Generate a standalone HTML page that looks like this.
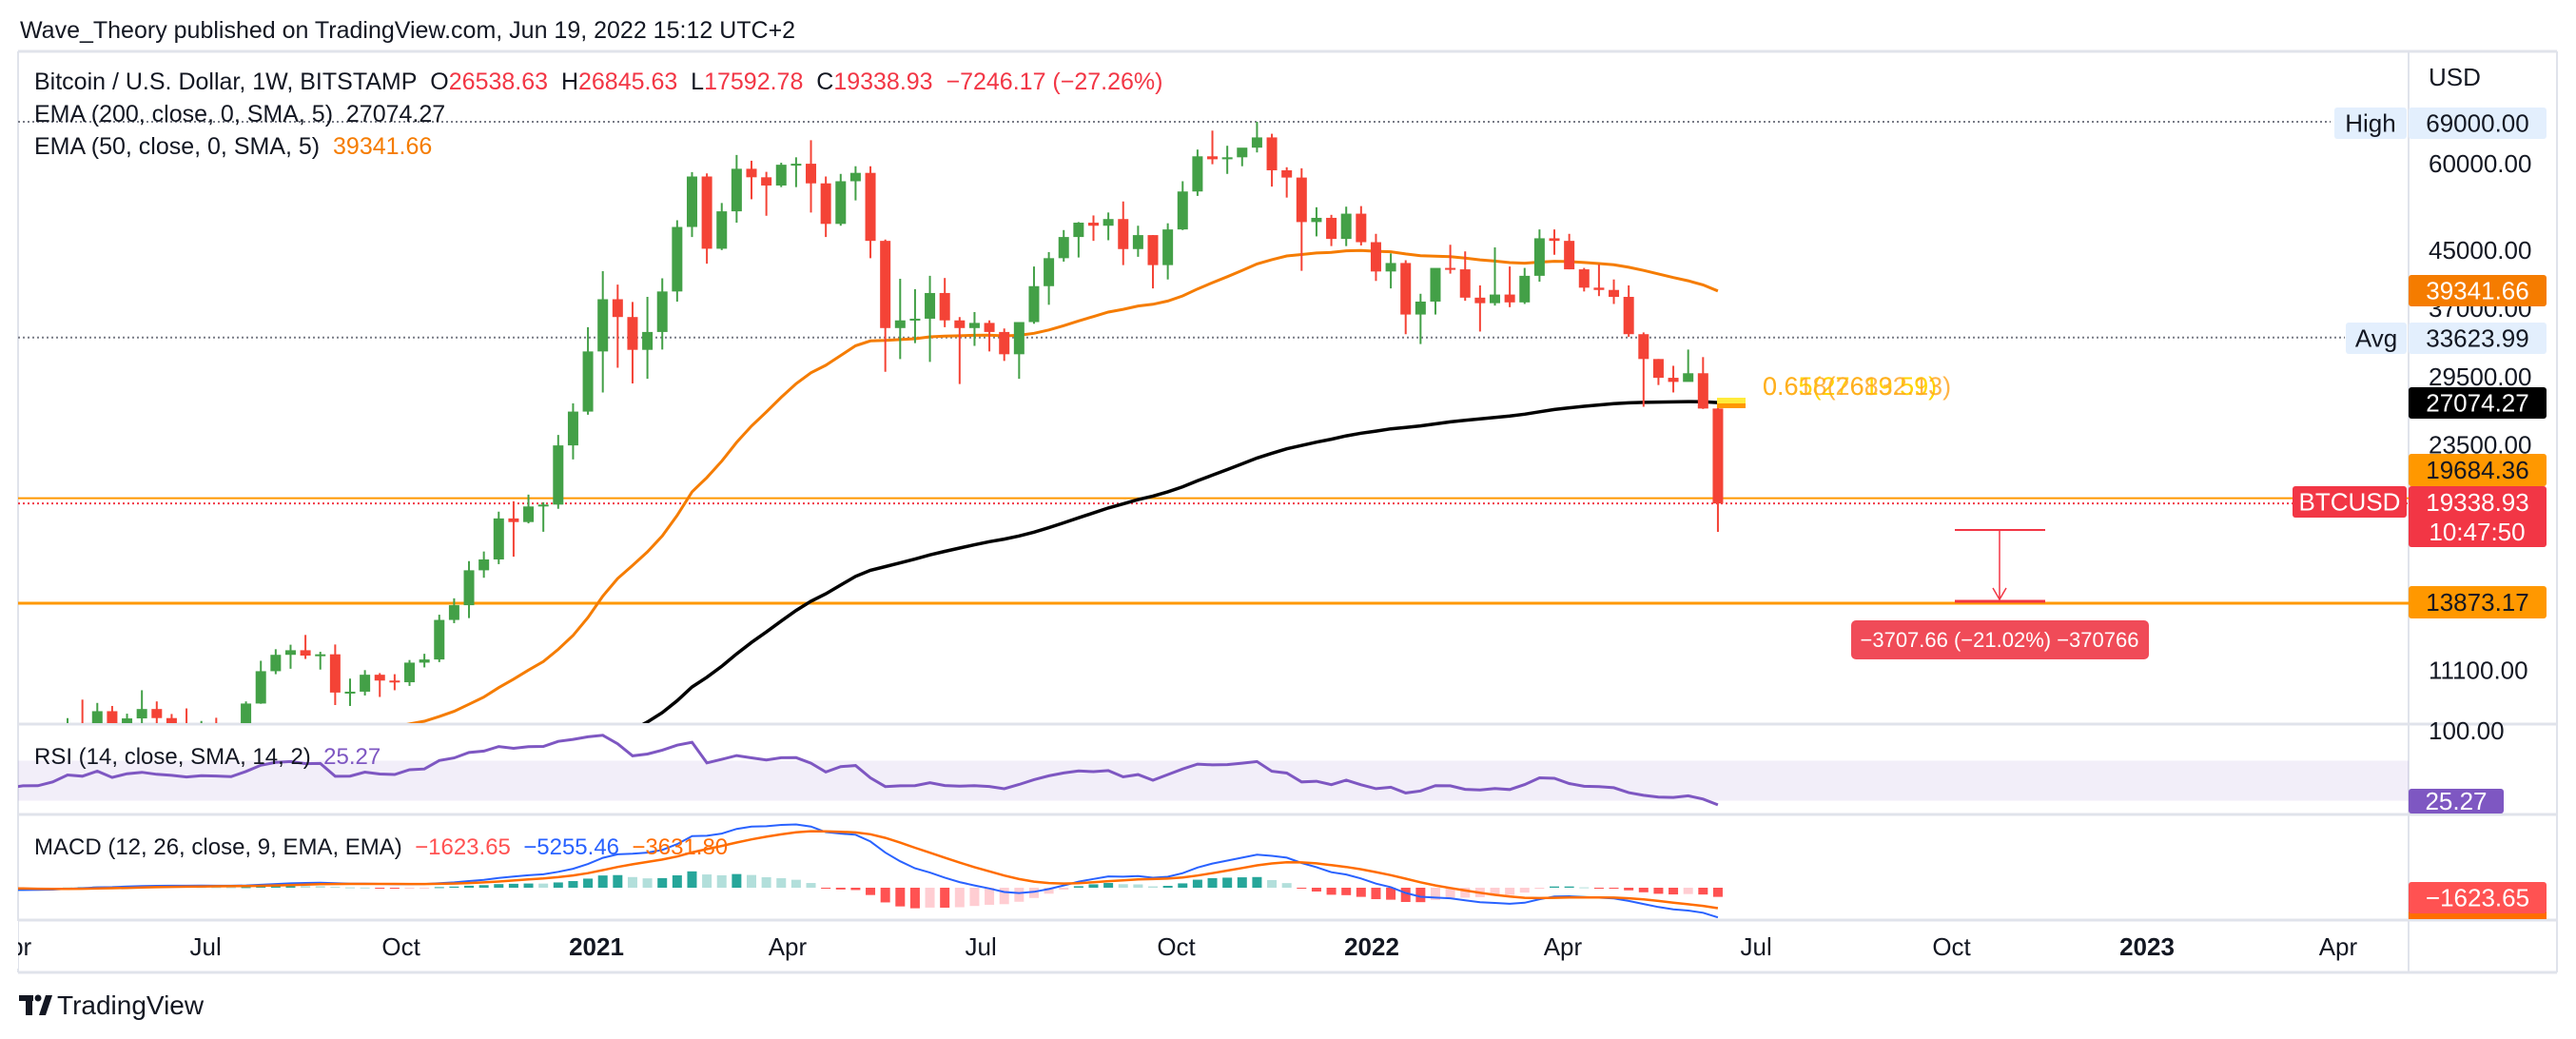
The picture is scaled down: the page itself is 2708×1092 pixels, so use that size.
<!DOCTYPE html>
<html><head><meta charset="utf-8"><style>
html,body{margin:0;padding:0;background:#fff;}
svg{display:block;font-family:"Liberation Sans",sans-serif;}
</style></head><body>
<svg id="chart" width="2708" height="1092" viewBox="0 0 2708 1092" xmlns="http://www.w3.org/2000/svg">
<defs>
<clipPath id="cMain"><rect x="19" y="55" width="2513" height="705"/></clipPath>
<clipPath id="cRsi"><rect x="19" y="762" width="2513" height="93"/></clipPath>
<clipPath id="cMacd"><rect x="19" y="857" width="2513" height="110"/></clipPath>
</defs>
<rect x="0" y="0" width="2708" height="1092" fill="#fff"/>
<text x="21" y="40" font-size="25" fill="#131722">Wave_Theory published on TradingView.com, Jun 19, 2022 15:12 UTC+2</text>
<line x1="19" y1="54" x2="2688" y2="54" stroke="#e0e3eb" stroke-width="3"/>
<line x1="2532" y1="54" x2="2532" y2="1022" stroke="#e0e3eb" stroke-width="2"/>
<line x1="19" y1="54" x2="19" y2="1022" stroke="#e0e3eb" stroke-width="2"/>
<line x1="2688" y1="54" x2="2688" y2="1022" stroke="#e0e3eb" stroke-width="2"/>
<line x1="19" y1="761" x2="2688" y2="761" stroke="#e0e3eb" stroke-width="3"/>
<line x1="19" y1="856" x2="2688" y2="856" stroke="#e0e3eb" stroke-width="3"/>
<line x1="19" y1="967" x2="2688" y2="967" stroke="#e0e3eb" stroke-width="3"/>
<line x1="19" y1="1022" x2="2688" y2="1022" stroke="#e0e3eb" stroke-width="3"/>
<g id="gMain" clip-path="url(#cMain)"></g>
<g id="gRsi" clip-path="url(#cRsi)"></g>
<g id="gMacd" clip-path="url(#cMacd)"></g>
<g id="gAxis"></g>
<g id="gLegend">
<text x="36" y="94" font-size="25" fill="#131722">Bitcoin / U.S. Dollar, 1W, BITSTAMP&#160;&#160;O<tspan fill="#f23645">26538.63</tspan>&#160;&#160;H<tspan fill="#f23645">26845.63</tspan>&#160;&#160;L<tspan fill="#f23645">17592.78</tspan>&#160;&#160;C<tspan fill="#f23645">19338.93</tspan>&#160;&#160;<tspan fill="#f23645">−7246.17 (−27.26%)</tspan></text>
<text x="36" y="128" font-size="25" fill="#131722">EMA (200, close, 0, SMA, 5)&#160;&#160;27074.27</text>
<text x="36" y="162" font-size="25" fill="#131722">EMA (50, close, 0, SMA, 5)&#160;&#160;<tspan fill="#f57c00">39341.66</tspan></text>
<text x="36" y="803" font-size="24" fill="#131722">RSI (14, close, SMA, 14, 2)&#160;&#160;<tspan fill="#7e57c2">25.27</tspan></text>
<text x="36" y="898" font-size="24" fill="#131722">MACD (12, 26, close, 9, EMA, EMA)&#160;&#160;<tspan fill="#ff5252">−1623.65</tspan>&#160;&#160;<tspan fill="#2962ff">−5255.46</tspan>&#160;&#160;<tspan fill="#ff6d00">−3631.80</tspan></text>
</g>
<g>
<rect x="20" y="1046" width="15" height="6" fill="#131722"/><rect x="27" y="1046" width="7" height="21" fill="#131722"/><circle cx="40" cy="1049" r="3.5" fill="#131722"/><polygon points="41,1067 48,1046 55,1046 48,1067" fill="#131722"/>
<text x="60" y="1066" font-size="28" fill="#131722">TradingView</text>
</g>
</svg>
<script>
// Weekly OHLC data starting week of 2019-12-30
const opens = [7250,8030,8100,8920,8600,9330,9900,9920,9660,8530,8040,5360,5830,
5880,6780,7120,7130,7700,8900,8720,9680,8720,9450,9750,9460,9300,9080,9280,9240,9160,9930,11060,11680,11860,11650,11700,10300,10330,10930,10720,10660,11380,11500,13120,13780,15480,16050,18400,18180,19150,19270,23470,26270,
32100,38200,36000,32270,34250,39200,48600,57500,45200,51200,59000,57350,55800,59800,60000,56200,49100,56600,58200,46400,34700,35600,35800,39000,35600,34700,35300,34250,31800,35400,39900,43800,47000,49300,48800,49900,45150,47300,42800,48200,54700,61500,60900,61300,63300,65500,58700,57300,49400,50100,46700,50800,
46200,41900,43100,36300,37900,42400,42200,38400,37700,38800,37800,41300,46800,46400,42200,39700,39400,38500,34000,31300,29400,29000,29850,26538.63];
const highs = [8200,8870,9190,8930,9560,9850,10500,10250,9960,9190,8150,6900,6940,
7300,7450,7290,7760,9460,10060,9950,9850,9600,10380,10000,9590,9770,9370,9470,9300,10000,11450,11900,12080,12480,11800,12090,10790,11100,10990,10950,11480,11720,13350,14100,15960,16480,18820,19480,19920,19420,24300,27000,34800,
41950,40100,37850,38500,40950,49700,58350,58100,52640,61780,60600,58400,60200,61300,64900,57500,58000,59500,59500,46600,40900,39500,41300,41000,36000,36600,35600,34650,35400,42600,44700,48100,49400,50500,51000,52900,48800,47300,49200,56600,62900,67000,63700,63100,69000,66300,59300,59100,51900,50600,52000,52100,
47500,44500,43500,38900,42000,45800,44800,40000,45400,42600,42400,48200,48200,47500,42400,42900,40800,40000,34200,31300,30600,32300,31500,26845.63];
const lows = [6900,7770,8050,8250,8560,9130,9720,9400,8450,8490,3850,4450,5690,
5860,6500,6450,6800,7630,8500,8200,8850,8640,9250,9080,9170,8940,8900,9140,9050,9130,9920,10950,11150,11520,11120,9880,9850,10200,10150,10380,10530,11200,11400,12980,13200,15100,15800,16200,18100,17600,19000,22400,26000,
28000,30400,28850,29300,32300,37900,47000,43000,45000,49300,53300,50450,55500,55500,51000,47000,48800,53100,43800,30000,31300,33000,31000,34800,28800,32700,32100,31100,29300,35200,37500,43300,43900,46400,46500,42800,44000,39600,40800,48100,53900,59900,58000,59500,62300,55600,53600,42000,47100,45600,45600,45700,
40600,39600,34000,32900,36300,41600,38000,34300,37400,37200,37600,40500,44300,42200,39200,38600,37600,33700,26700,28700,28000,29200,26500,17592.78];
const closes = [8030,8100,8920,8600,9330,9900,9920,9660,8530,8040,5360,5830,5880,
6780,7120,7130,7700,8900,8720,9680,8720,9450,9750,9460,9300,9080,9280,9240,9160,9930,11060,11680,11860,11650,11700,10300,10330,10930,10720,10660,11380,11500,13120,13780,15480,16050,18400,18180,19150,19270,23470,26270,32100,
38200,36000,32270,34250,39200,48600,57500,45200,51200,59000,57350,55800,59800,60000,56200,49100,56600,58200,46400,34700,35600,35800,39000,35600,34700,35300,34250,31800,35400,39900,43800,47000,49300,48800,49900,45150,47300,42800,48200,54700,61500,60900,61300,63300,65500,58700,57300,49400,50100,46700,50800,46200,
41900,43100,36300,37900,42400,42200,38400,37700,38800,37800,41300,46800,46400,42200,39700,39400,38500,34000,31300,29400,29000,29850,26538.63,19338.93];
const ema200Last = 27074.27;
const ema50Seed = 7400;
const timeTicks = ["Apr","Jul","Oct","2021","Apr","Jul","Oct","2022","Apr","Jul","Oct","2023","Apr"];
const timeTickDates = ["2020-04-01","2020-07-01","2020-10-01","2021-01-01","2021-04-01","2021-07-01","2021-10-01","2022-01-01","2022-04-01","2022-07-01","2022-10-01","2023-01-01","2023-04-01"];
const priceTicks = [60000,45000,29500,23500,11100];

const NS="http://www.w3.org/2000/svg";
const X0=627, PXW=15.63, DAY=86400000, T2021=Date.UTC(2021,0,1), START=Date.UTC(2019,11,30);
const AF=26;
function xDate(t){return X0+(t-T2021)/DAY/7*PXW;}
function xI(i){return xDate(START+i*7*DAY);}
function yP(p){return 128+Math.log(69000/p)*315.4;}
function yR(v){return 873-v*1.05;}
function yM(v){return 933-v*0.0059;}
function mk(tag,attrs,parent){const e=document.createElementNS(NS,tag);for(const k in attrs)e.setAttribute(k,attrs[k]);parent.appendChild(e);return e;}
const gMain=document.getElementById('gMain'),gRsi=document.getElementById('gRsi'),gMacd=document.getElementById('gMacd'),gAxis=document.getElementById('gAxis');

let l;
l=mk('line',{x1:19,x2:2450,y1:yP(69000),y2:yP(69000),stroke:'#787b86','stroke-width':2,'stroke-dasharray':'2 3'},gMain);


l=mk('line',{x1:19,x2:2465,y1:yP(33623.99),y2:yP(33623.99),stroke:'#787b86','stroke-width':2,'stroke-dasharray':'2 3'},gMain);


l=mk('line',{x1:19,x2:2532,y1:yP(19684.36),y2:yP(19684.36),stroke:'#ff9800','stroke-width':2},gMain);


l=mk('line',{x1:19,x2:2532,y1:yP(19338.93),y2:yP(19338.93),stroke:'#f23645','stroke-width':2,'stroke-dasharray':'2 3'},gMain);


l=mk('line',{x1:19,x2:2532,y1:yP(13873.17),y2:yP(13873.17),stroke:'#ff9800','stroke-width':3},gMain);



function emaSeries(src,n,seed){const a=2/(n+1);const out=[];let e=seed;for(let i=0;i<src.length;i++){e=(i===0)?seed:e+a*(src[i]-e);out.push(e);}return out;}
const e0=emaSeries(closes,200,0), e1=emaSeries(closes,200,1);
let seed200=(ema200Last-e0[e0.length-1])/(e1[e1.length-1]-e0[e0.length-1]);
seed200=Math.max(2000,Math.min(12000,seed200));
const ema200=emaSeries(closes,200,seed200);
const ema50=emaSeries(closes,50,ema50Seed);
function pathOf(arr,yf){return arr.map((v,i)=>(i?'L':'M')+xI(i).toFixed(1)+' '+yf(v).toFixed(1)).join(' ');}
l=mk('path',{d:pathOf(ema50,yP),fill:'none',stroke:'#f57c00','stroke-width':3},gMain);


l=mk('path',{d:pathOf(ema200,yP),fill:'none',stroke:'#000','stroke-width':3.5},gMain);



for(let i=0;i<closes.length;i++){
  const up=closes[i]>=opens[i], c=up?'#43a047':'#f44336', x=xI(i);
  const g=mk('g',{},gMain);
  
  
  mk('line',{x1:x,x2:x,y1:yP(highs[i]),y2:yP(lows[i]),stroke:c,'stroke-width':2},g);
  const yt=yP(Math.max(opens[i],closes[i])), yb=yP(Math.min(opens[i],closes[i]));
  mk('rect',{x:x-5.5,y:yt,width:11,height:Math.max(2,yb-yt),fill:c},g);
}

l=mk('rect',{x:1805,y:418,width:30,height:6,fill:'#ffeb3b'},gMain);


mk('rect',{x:1805,y:424,width:30,height:5,fill:'#ff9800'},gMain);
l=mk('text',{x:1853,y:415,'font-size':27,fill:'#ffd600'},gMain);l.textContent='0.65(27619.59)';


l=mk('text',{x:1853,y:415,'font-size':27,fill:'#ffa726','fill-opacity':0.85},gMain);l.textContent='0.618(26832.13)';



const mg=mk('g',{},gMain);


mk('line',{x1:2055,x2:2150,y1:557,y2:557,stroke:'#f23645','stroke-width':2},mg);
mk('line',{x1:2055,x2:2150,y1:632,y2:632,stroke:'#f23645','stroke-width':3},mg);
mk('line',{x1:2102,x2:2102,y1:557,y2:630,stroke:'#f23645','stroke-width':1.5},mg);
mk('path',{d:'M2095 618 L2102 630 L2109 618',fill:'none',stroke:'#f23645','stroke-width':1.5},mg);
mk('rect',{x:1946,y:652,width:313,height:41,rx:5,fill:'#f04b58'},mg);
l=mk('text',{x:2102,y:680,'font-size':22,fill:'#fff','text-anchor':'middle'},mg);l.textContent='−3707.66 (−21.02%) −370766';



function rsiSeries(src,n){const out=[50];let ag=0,al=0;for(let i=1;i<src.length;i++){const d=src[i]-src[i-1];const g=Math.max(d,0),lo=Math.max(-d,0);if(i<=n){ag+=g/n;al+=lo/n;}else{ag=(ag*(n-1)+g)/n;al=(al*(n-1)+lo)/n;}out.push(al===0?100:100-100/(1+ag/al));}return out;}
const rsi=rsiSeries(closes,14);
l=mk('rect',{x:19,y:yR(70),width:2513,height:yR(30)-yR(70),fill:'#7e57c2','fill-opacity':0.1},gRsi);


l=mk('path',{d:pathOf(rsi,yR),fill:'none',stroke:'#7e57c2','stroke-width':3},gRsi);



const em12=emaSeries(closes,12,closes[0]), em26=emaSeries(closes,26,closes[0]);
const macd=em12.map((v,i)=>v-em26[i]);
const sig=emaSeries(macd,9,macd[0]);
const hist=macd.map((v,i)=>v-sig[i]);
for(let i=0;i<hist.length;i++){
  const h=hist[i], p=i?hist[i-1]:0;
  const c=h>=0?(h>=p?'#26a69a':'#b2dfdb'):(h<p?'#ff5252':'#ffcdd2');
  const y1=yM(Math.max(h,0)), y2=yM(Math.min(h,0));
  l=mk('rect',{x:xI(i)-5,y:y1,width:10,height:Math.max(1,y2-y1),fill:c},gMacd);
  
  
}
l=mk('path',{d:pathOf(macd,yM),fill:'none',stroke:'#2962ff','stroke-width':2},gMacd);


l=mk('path',{d:pathOf(sig,yM),fill:'none',stroke:'#ff6d00','stroke-width':2.5},gMacd);



timeTicks.forEach((t,i)=>{const d=timeTickDates[i].split('-');const x=xDate(Date.UTC(+d[0],+d[1]-1,+d[2]));
  const bold=/^\d{4}$/.test(t);
  const e=mk('text',{x:x,y:1004,'font-size':AF,fill:'#131722','text-anchor':'middle','font-weight':bold?'bold':'normal'},gAxis);
  e.textContent=t;
  
  
});
mk('rect',{x:0,y:968,width:19,height:50,fill:'#fff'},gAxis);

priceTicks.forEach(p=>{const e=mk('text',{x:2553,y:yP(p)+9,'font-size':AF,fill:'#131722'},gAxis);e.textContent=p.toFixed(2);
  
  });
let t;
t=mk('text',{x:2553,y:333,'font-size':AF,fill:'#131722'},gAxis);t.textContent='37000.00';
t=mk('text',{x:2553,y:90,'font-size':AF,fill:'#131722'},gAxis);t.textContent='USD';


t=mk('text',{x:2553,y:777,'font-size':AF,fill:'#131722'},gAxis);t.textContent='100.00';



function badge(x,y,w,h,bg,fg,txt,name){const g=mk('g',{},gAxis);
  
  
  mk('rect',{x:x,y:y,width:w,height:h,fill:bg,rx:3},g);
  const e=mk('text',{x:x+w/2,y:y+h/2+9,'font-size':AF,fill:fg,'text-anchor':'middle'},g);e.textContent=txt;return g;}
badge(2454,113,76,33,'#e3effd','#131722','High','high-tag');
badge(2532,113,145,33,'#e3effd','#131722','69000.00','high-price-label');
badge(2532,289,145,33,'#f57c00','#fff','39341.66','ema50-price-label');
badge(2466,339,64,33,'#e3effd','#131722','Avg','avg-tag');
badge(2532,339,145,33,'#e3effd','#131722','33623.99','avg-price-label');
badge(2532,407,145,33,'#000','#fff','27074.27','ema200-price-label');
badge(2532,477,145,34,'#ff9800','#131722','19684.36','level-19684-label');
badge(2410,511,120,33,'#f23645','#fff','BTCUSD','symbol-tag');
const lp=badge(2532,511,145,64,'#f23645','#fff','19338.93','last-price-label');
lp.querySelector('text').setAttribute('y',537);
t=mk('text',{x:2604,y:568,'font-size':AF,fill:'#fff','text-anchor':'middle'},lp);t.textContent='10:47:50';
badge(2532,616,145,34,'#ff9800','#131722','13873.17','level-13873-label');
badge(2532,829,100,26,'#7e57c2','#fff','25.27','rsi-value-label');
mk('rect',{x:2532,y:958,width:145,height:8,fill:'#ff6d00'},gAxis);
badge(2532,927,145,33,'#ff5252','#fff','−1623.65','macd-hist-label');
</script>
</body></html>
